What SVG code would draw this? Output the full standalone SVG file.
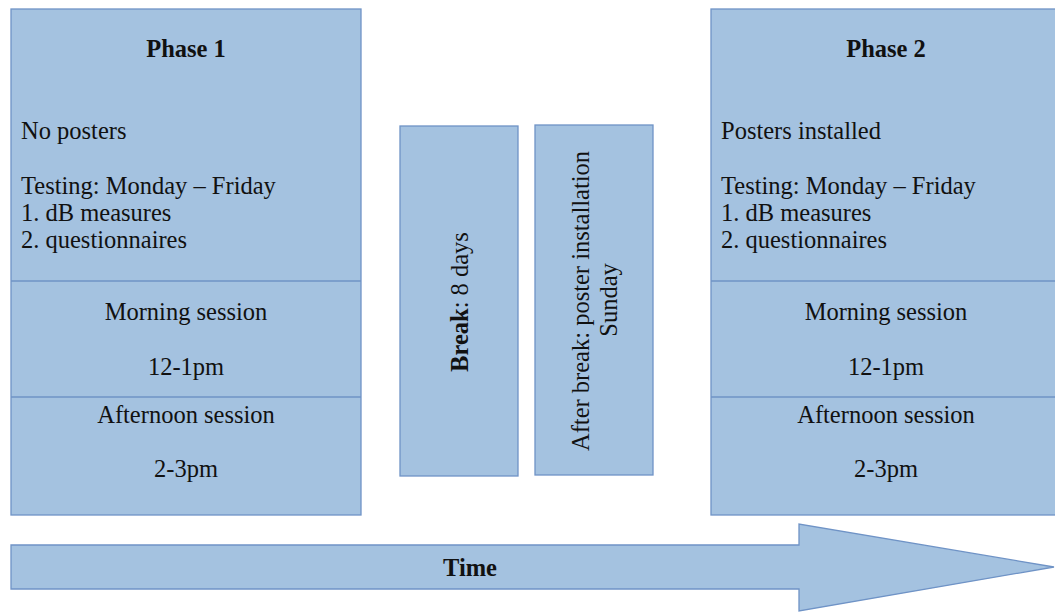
<svg xmlns="http://www.w3.org/2000/svg" width="1055" height="615" viewBox="0 0 1055 615">
<style>
.box{fill:#a4c2e0;stroke:#6f93c6;stroke-width:1.3}
.div{stroke:#6f93c6;stroke-width:1.3;fill:none}
text{font-family:"Liberation Serif","Times New Roman",serif;font-size:24.5px;fill:#111}
.b{font-weight:bold}
.c{text-anchor:middle}
</style>
<rect width="1055" height="615" fill="#fff"/>
<g id="phase1">
<rect class="box" x="11" y="9" width="350" height="506"/>
<line class="div" x1="11" y1="281" x2="361" y2="281"/>
<line class="div" x1="11" y1="397" x2="361" y2="397"/>
<text class="b c" x="186" y="57">Phase 1</text>
<text x="21" y="139">No posters</text>
<text x="21" y="194">Testing: Monday – Friday</text>
<text x="21" y="221">1. dB measures</text>
<text x="21" y="248">2. questionnaires</text>
<text class="c" x="186" y="320">Morning session</text>
<text class="c" x="186" y="375">12-1pm</text>
<text class="c" x="186" y="423">Afternoon session</text>
<text class="c" x="186" y="477">2-3pm</text>
</g>
<g id="break">
<rect class="box" x="400" y="126" width="118" height="350"/>
<text class="c" transform="translate(468,302) rotate(-90)"><tspan class="b">Break</tspan>: 8 days</text>
</g>
<g id="afterbreak">
<rect class="box" x="535" y="125" width="118" height="350"/>
<text class="c" transform="translate(589,301) rotate(-90)">After break: poster installation</text>
<text class="c" transform="translate(617,300) rotate(-90)">Sunday</text>
</g>
<g id="phase2">
<rect class="box" x="711" y="9" width="350" height="506"/>
<line class="div" x1="711" y1="281" x2="1061" y2="281"/>
<line class="div" x1="711" y1="397" x2="1061" y2="397"/>
<text class="b c" x="886" y="57">Phase 2</text>
<text x="721" y="139">Posters installed</text>
<text x="721" y="194">Testing: Monday – Friday</text>
<text x="721" y="221">1. dB measures</text>
<text x="721" y="248">2. questionnaires</text>
<text class="c" x="886" y="320">Morning session</text>
<text class="c" x="886" y="375">12-1pm</text>
<text class="c" x="886" y="423">Afternoon session</text>
<text class="c" x="886" y="477">2-3pm</text>
</g>
<g id="connectors">
<g id="time">
<polygon class="box" points="11,545 799,545 799,524 1054,567 799,611 799,589 11,589"/>
<text class="b c" x="470" y="576">Time</text>
</g>
</g>
</svg>
